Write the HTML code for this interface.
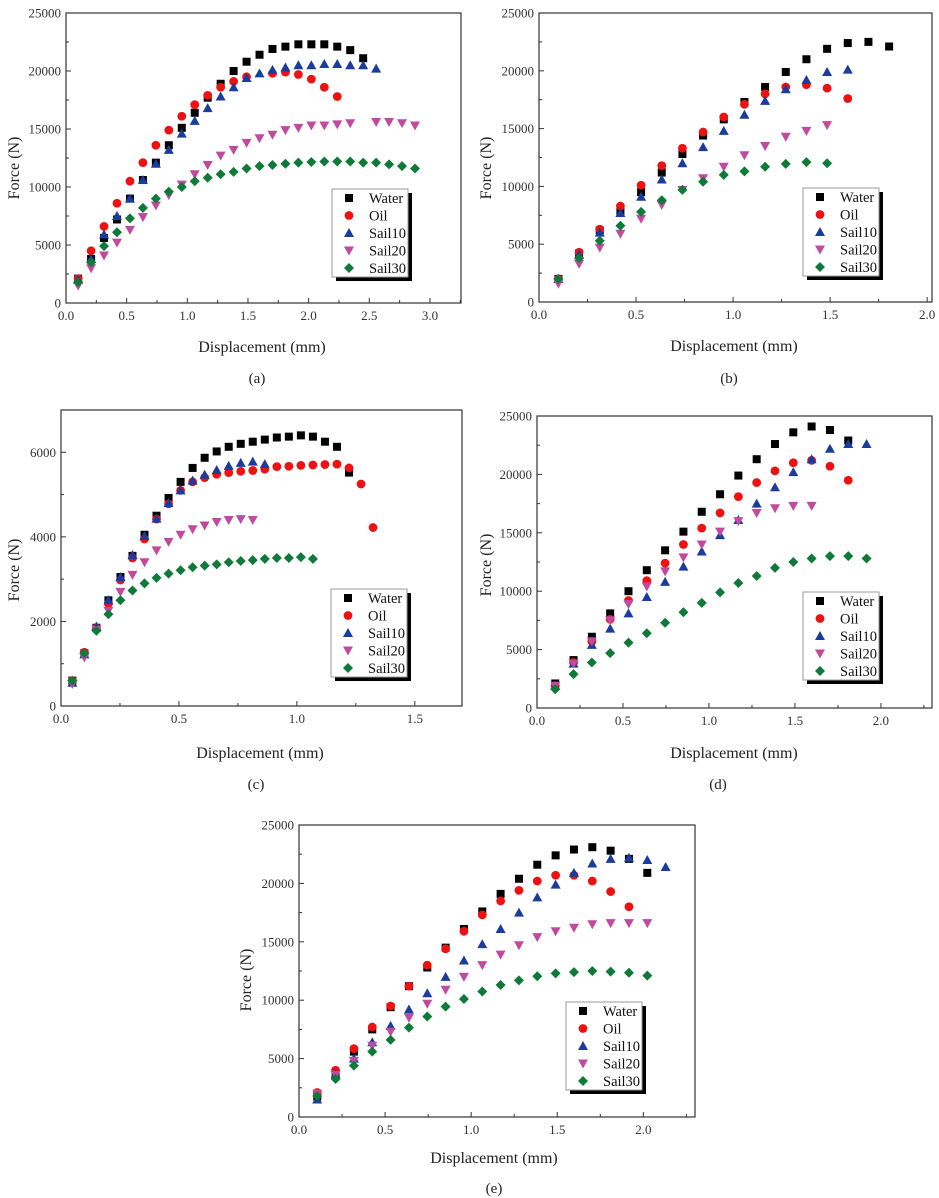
<!DOCTYPE html>
<html><head><meta charset="utf-8">
<style>
html,body{margin:0;padding:0;background:#fff;}
svg{display:block;font-family:"Liberation Serif",serif;}
</style></head>
<body>
<svg id="fig" width="939" height="1198" viewBox="0 0 939 1198" xmlns="http://www.w3.org/2000/svg"></svg>
<script>
// ---- data (kN values, ×1000 = N) ----
const seriesNames = ["Water","Oil","Sail10","Sail20","Sail30"];
// Panel (a)
const aStep = 0.1068;
const aWater = [2.1,3.8,5.6,7.2,9.0,10.6,12.1,13.6,15.1,16.4,17.7,18.9,20.0,20.8,21.4,21.9,22.1,22.3,22.3,22.3,22.1,21.8,21.1];
const aOil = [2.1,4.5,6.6,8.6,10.5,12.1,13.6,14.9,16.1,17.1,17.9,18.6,19.1,19.5,null,19.8,19.9,19.7,19.3,18.6,17.8];
const aSail10 = [2.0,3.8,5.9,7.5,9.0,10.6,12.0,13.2,14.6,15.7,16.8,17.8,18.6,19.4,19.8,20.1,20.3,20.5,20.5,20.6,20.6,20.5,20.5,20.2];
const aSail20 = [1.5,3.0,4.1,5.2,6.3,7.4,8.4,9.3,10.2,11.1,11.9,12.7,13.2,13.8,14.2,14.5,14.9,15.1,15.3,15.3,15.4,15.5,null,15.6,15.6,15.5,15.3];
const aSail30 = [1.8,3.5,4.9,6.1,7.3,8.2,9.0,9.6,10.0,10.5,10.8,11.1,11.3,11.6,11.8,11.9,12.0,12.1,12.15,12.2,12.2,12.2,12.1,12.1,11.95,11.8,11.6];
// Panel (b)
const bStep = 0.1065;
const bWater = [2.0,4.2,6.2,7.8,9.5,11.2,12.8,14.4,15.8,17.3,18.6,19.9,21.0,21.9,22.4,22.5,22.1];
const bOil = [2.0,4.3,6.3,8.3,10.1,11.8,13.3,14.7,16.0,17.1,18.0,18.6,18.8,18.5,17.6];
const bSail10 = [2.0,4.1,6.0,7.7,9.1,10.6,12.0,13.4,14.8,16.2,17.4,18.4,19.2,19.9,20.1];
const bSail20 = [1.6,3.3,4.7,5.9,7.2,8.4,9.7,10.7,11.7,12.7,13.5,14.3,14.8,15.3];
const bSail30 = [2.0,3.8,5.3,6.6,7.8,8.8,9.7,10.4,11.0,11.3,11.7,11.95,12.1,12.0];
// Panel (c)
const cStep = 0.051;
const cWater = [0.6,1.25,1.85,2.5,3.05,3.55,4.05,4.5,4.92,5.3,5.63,5.87,6.02,6.13,6.2,6.25,6.3,6.35,6.37,6.4,6.37,6.25,6.13,5.52];
const cOil = [0.6,1.27,1.85,2.42,2.98,3.5,3.95,4.42,4.78,5.1,5.3,5.4,5.48,5.52,5.55,5.57,5.6,5.66,5.67,5.69,5.7,5.71,5.72,5.63,5.25,4.22];
const cSail10 = [0.55,1.22,1.88,2.5,3.05,3.57,4.02,4.43,4.8,5.1,5.33,5.47,5.58,5.68,5.75,5.78,5.72];
const cSail20 = [0.52,1.15,1.8,2.25,2.7,3.1,3.4,3.68,3.88,4.05,4.18,4.27,4.35,4.4,4.42,4.4];
const cSail30 = [0.6,1.25,1.78,2.17,2.5,2.73,2.9,3.03,3.13,3.21,3.28,3.32,3.35,3.4,3.43,3.45,3.48,3.5,3.5,3.52,3.48];
// Panel (d)
const dStep = 0.1065;
const dWater = [2.1,4.1,6.1,8.1,10.0,11.8,13.5,15.1,16.8,18.3,19.9,21.3,22.6,23.6,24.1,23.8,22.9];
const dOil = [1.9,3.9,5.7,7.6,9.2,10.9,12.4,14.0,15.4,16.7,18.1,19.3,20.3,21.0,21.2,20.7,19.5];
const dSail10 = [1.9,3.8,5.4,6.8,8.1,9.5,10.8,12.1,13.4,14.8,16.1,17.5,18.9,20.2,21.3,22.2,22.6,22.6];
const dSail20 = [1.9,3.8,5.7,7.5,8.9,10.4,11.7,12.9,14.0,15.1,16.0,16.7,17.1,17.3,17.3];
const dSail30 = [1.6,2.9,3.9,4.7,5.6,6.4,7.3,8.2,9.0,9.9,10.7,11.3,12.0,12.5,12.8,13.0,13.0,12.8];
// Panel (e)
const eStep = 0.1065;
const eWater = [1.75,3.7,5.6,7.5,9.4,11.2,12.8,14.5,16.1,17.6,19.1,20.4,21.6,22.4,22.9,23.1,22.8,22.1,20.9];
const eOil = [2.1,4.0,5.85,7.7,9.5,11.2,13.0,14.4,15.9,17.3,18.5,19.4,20.2,20.7,20.7,20.2,19.3,18.0];
const eSail10 = [1.5,3.7,5.0,6.4,7.8,9.2,10.6,12.0,13.4,14.8,16.1,17.5,18.8,19.9,20.9,21.7,22.1,22.2,22.0,21.4];
const eSail20 = [2.0,3.6,4.8,6.1,7.3,8.5,9.7,10.9,12.0,13.0,13.9,14.7,15.4,15.9,16.2,16.5,16.6,16.6,16.6];
const eSail30 = [1.8,3.25,4.4,5.6,6.6,7.65,8.6,9.45,10.1,10.75,11.3,11.7,12.05,12.3,12.4,12.5,12.45,12.35,12.1];

const NS = "http://www.w3.org/2000/svg";
const svg = document.getElementById("fig");
const colors = ["#000000","#ee1111","#1a3c9c","#c04a9e","#0e7a3a"];
function mk(tag, attrs, parent){
  const e = document.createElementNS(NS, tag);
  for (const k in attrs) e.setAttribute(k, attrs[k]);
  (parent||svg).appendChild(e);
  return e;
}
function marker(g, kind, cx, cy){
  let e;
  if (kind===0) e = mk("rect",{x:cx-4,y:cy-4,width:8,height:8,fill:colors[0]},g);
  else if (kind===1) e = mk("circle",{cx:cx,cy:cy,r:4.4,fill:colors[1]},g);
  else if (kind===2) e = mk("polygon",{points:`${cx},${cy-5} ${cx+5},${cy+4} ${cx-5},${cy+4}`,fill:colors[2]},g);
  else if (kind===3) e = mk("polygon",{points:`${cx-5},${cy-4} ${cx+5},${cy-4} ${cx},${cy+5}`,fill:colors[3]},g);
  else e = mk("polygon",{points:`${cx},${cy-5} ${cx+5},${cy} ${cx},${cy+5} ${cx-5},${cy}`,fill:colors[4]},g);
  return e;
}
function panel(p){
  const g = mk("g",{});
  
  
  const sx = v => p.x0 + (v/p.xmax)*(p.x1-p.x0);
  const sy = v => p.y0 - (v/p.ymax)*(p.y0-p.y1);
  const fr = mk("rect",{x:p.x0,y:p.y1,width:p.x1-p.x0,height:p.y0-p.y1,fill:"none",stroke:"#333",'stroke-width':1.2},g);
  
  
  for (let v=0; v<=p.xmax+1e-9; v+=p.xminor){
    const major = Math.abs(v/p.xmajor - Math.round(v/p.xmajor))<1e-6;
    const X = sx(v);
    mk("line",{x1:X,x2:X,y1:p.y0,y2:p.y0-(major?5:3),stroke:"#333",'stroke-width':1},g);
    if (major){
      const t = mk("text",{x:X,y:p.y0+17,'text-anchor':'middle','font-size':13,fill:"#333"},g);
      t.textContent = v.toFixed(1);
      
      
    }
  }
  for (let v=0; v<=p.ymax+1e-9; v+=p.yminor){
    const major = Math.abs(v/p.ymajor - Math.round(v/p.ymajor))<1e-6;
    const Y = sy(v);
    mk("line",{x1:p.x0,x2:p.x0+(major?5:3),y1:Y,y2:Y,stroke:"#333",'stroke-width':1},g);
    if (major){
      const t = mk("text",{x:p.x0-5,y:Y+4.5,'text-anchor':'end','font-size':13,fill:"#333"},g);
      t.textContent = String(Math.round(v*1000));
      
      
    }
  }
  const xt = mk("text",{x:p.xtx,y:p.xty,'text-anchor':'middle','font-size':16,fill:"#222"},g);
  xt.textContent = "Displacement (mm)";
  
  
  const yt = mk("text",{x:0,y:0,'text-anchor':'middle','font-size':16,fill:"#222",transform:`translate(${p.ytx},${p.yty}) rotate(-90)`},g);
  yt.textContent = "Force (N)";
  
  
  const cap = mk("text",{x:p.capx,y:p.capy,'text-anchor':'middle','font-size':15,fill:"#222"},g);
  cap.textContent = "(" + p.id + ")";
  
  
  p.series.forEach((arr, k) => {
    const sg = mk("g",{},g);
    
    
    arr.forEach((val, i) => {
      if (val===null) return;
      const m = marker(sg, k, sx(p.step*(i+1) - (p.off||0)), sy(val));
      
      
    });
  });
  const L = mk("g",{},g);
  
  
  mk("rect",{x:p.lx+4,y:p.ly+4,width:76,height:88,fill:"#000"},L);
  mk("rect",{x:p.lx,y:p.ly,width:76,height:88,fill:"#fff",stroke:"#999",'stroke-width':1},L);
  seriesNames.forEach((nm,k)=>{
    const ry = p.ly + 9 + k*17.5;
    const le = mk("g",{},L);
    
    
    marker(le,k,p.lx+17,ry);
    const t = mk("text",{x:p.lx+37,y:ry+5,'font-size':14.5,fill:"#111"},le);
    t.textContent = nm;
  });
}
panel({id:"a",x0:66,x1:461,y0:303,y1:13,xmax:3.256,ymax:25,xmajor:0.5,xminor:0.25,ymajor:5,yminor:2.5,
  step:aStep,off:0.0068,series:[aWater,aOil,aSail10,aSail20,aSail30],lx:332,ly:189,
  xtx:262,xty:352,ytx:19,yty:168,capx:257,capy:383});
panel({id:"b",x0:539,x1:932,y0:302,y1:13,xmax:2.025,ymax:25,xmajor:0.5,xminor:0.25,ymajor:5,yminor:2.5,
  step:bStep,off:0.0065,series:[bWater,bOil,bSail10,bSail20,bSail30],lx:803,ly:188,
  xtx:734,xty:351,ytx:491,yty:168,capx:729,capy:383});
panel({id:"c",x0:61,x1:462,y0:706,y1:410,xmax:1.70,ymax:7,xmajor:0.5,xminor:0.25,ymajor:2,yminor:1,
  step:cStep,off:0.003,series:[cWater,cOil,cSail10,cSail20,cSail30],lx:331,ly:589,
  xtx:260,xty:758,ytx:19,yty:570,capx:256,capy:789});
panel({id:"d",x0:537,x1:932,y0:708,y1:416,xmax:2.297,ymax:25,xmajor:0.5,xminor:0.25,ymajor:5,yminor:2.5,
  step:dStep,off:0.0005,series:[dWater,dOil,dSail10,dSail20,dSail30],lx:803,ly:592,
  xtx:734,xty:758,ytx:491,yty:565,capx:718,capy:789});
panel({id:"e",x0:299,x1:695,y0:1117,y1:825,xmax:2.30,ymax:25,xmajor:0.5,xminor:0.25,ymajor:5,yminor:2.5,
  step:eStep,off:0.0005,series:[eWater,eOil,eSail10,eSail20,eSail30],lx:566,ly:1002,
  xtx:494,xty:1163,ytx:251,yty:980,capx:494,capy:1193});
</script>
</body></html>
